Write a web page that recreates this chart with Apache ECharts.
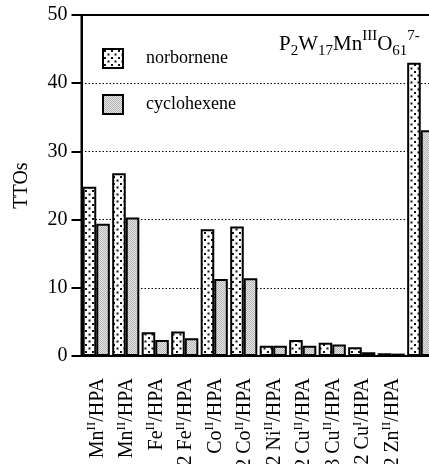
<!DOCTYPE html>
<html>
<head>
<meta charset="utf-8">
<script src="https://cdn.jsdelivr.net/npm/echarts@6/dist/echarts.min.js"></script>
<style>
  html, body { margin: 0; padding: 0; background: #fff; }
  #main { width: 429px; height: 464px; }
</style>
</head>
<body>
<div id="main"></div>
<script>
// catalysts (^ marks the superscript oxidation state)
var categories = ['Mn^II/HPA', '2 Mn^II/HPA', 'Fe^II/HPA', '2 Fe^II/HPA', 'Co^II/HPA', '2 Co^II/HPA',
  '2 Ni^II/HPA', '2 Cu^II/HPA', '3 Cu^II/HPA', '2 Cu^I/HPA', '2 Zn^II/HPA', ''];
var norbornene = [24.8, 26.8, 3.5, 3.6, 18.6, 19.0, 1.5, 2.35, 1.95, 1.3, 0.4, 43.0];
var cyclohexene = [19.4, 20.3, 2.35, 2.6, 11.3, 11.4, 1.5, 1.5, 1.7, 0.55, 0.35, 33.1];
var yTicks = [0, 10, 20, 30, 40, 50];

var FONT = '"Liberation Serif", serif';

// fill patterns
function dotPattern() {
  var c = document.createElement('canvas');
  c.width = 7; c.height = 7;
  var ctx = c.getContext('2d');
  ctx.fillStyle = '#fff';
  ctx.fillRect(0, 0, 7, 7);
  ctx.fillStyle = '#111';
  ctx.fillRect(1, 1, 2, 2);
  ctx.fillRect(4.5, 4.5, 2, 2);
  return c;
}
function grayPattern() {
  var c = document.createElement('canvas');
  c.width = 2; c.height = 2;
  var ctx = c.getContext('2d');
  ctx.fillStyle = '#e6e6e6';
  ctx.fillRect(0, 0, 2, 2);
  ctx.fillStyle = '#b4b4b4';
  ctx.fillRect(0, 0, 1, 1);
  ctx.fillRect(1, 1, 1, 1);
  return c;
}

function fmtLabel(s) {
  if (!s) return '';
  var m = s.match(/^(.*?)\^([IV]+)(.*)$/);
  if (!m) return '{n|' + s + '}';
  return '{n|' + m[1] + '}{sup|' + m[2] + '}{n|' + m[3] + '}';
}

var myChart = echarts.init(document.getElementById('main'));
var option;

var txt = { fontFamily: FONT, color: '#000', fontWeight: 'normal' };
var legendText = Object.assign({ fontSize: 18, padding: [0, 0, 0, 18] }, txt);

option = {
  animation: false,
  backgroundColor: '#fff',
  textStyle: { fontFamily: FONT, color: '#000' },
  title: {
    left: 279,
    top: 29,
    padding: 0,
    text: '{n|P}{sub|2}{n|W}{sub|17}{n|Mn}{sup|III}{n|O}{sub|61}{sup2|7-}',
    textStyle: {
      fontWeight: 'normal',
      rich: {
        n: Object.assign({ fontSize: 21, lineHeight: 30, verticalAlign: 'middle' }, txt),
        sub: Object.assign({ fontSize: 15, lineHeight: 12, verticalAlign: 'bottom' }, txt),
        sup: Object.assign({ fontSize: 15, lineHeight: 15, verticalAlign: 'top' }, txt),
        sup2: Object.assign({ fontSize: 15, lineHeight: 22, verticalAlign: 'top' }, txt)
      }
    }
  },
  legend: {
    orient: 'vertical',
    left: 102,
    top: 48,
    padding: 0,
    itemWidth: 20,
    itemHeight: 19,
    itemGap: 25,
    icon: 'rect',
    itemStyle: { borderColor: '#000', borderWidth: 2 },
    textStyle: legendText,
    data: [
      { name: 'norbornene', textStyle: legendText },
      { name: 'cyclohexene', textStyle: legendText }
    ]
  },
  grid: {
    left: 81.5,
    top: 15,
    width: 354,
    bottom: 108,
    outerBoundsMode: 'none',
    containLabel: false,
    show: true,
    borderColor: '#000',
    borderWidth: 2,
    backgroundColor: 'transparent'
  },
  xAxis: {
    type: 'category',
    data: categories,
    axisLine: { lineStyle: { color: '#000', width: 2 } },
    axisTick: { alignWithLabel: true, length: 8, lineStyle: { color: '#000', width: 2 } },
    axisLabel: {
      interval: 0,
      rotate: 90,
      margin: 22,
      formatter: fmtLabel,
      rich: {
        n: Object.assign({ fontSize: 20, lineHeight: 22, verticalAlign: 'bottom' }, txt),
        sup: Object.assign({ fontSize: 13, lineHeight: 13, verticalAlign: 'top' }, txt)
      }
    }
  },
  yAxis: {
    type: 'value',
    min: yTicks[0],
    max: yTicks[yTicks.length - 1],
    interval: 10,
    name: 'TTOs',
    nameLocation: 'middle',
    nameRotate: 90,
    nameGap: 50,
    nameTextStyle: { fontFamily: FONT, fontSize: 20, color: '#000' },
    axisLine: { show: true, lineStyle: { color: '#000', width: 2 } },
    axisTick: { show: true, length: 10, lineStyle: { color: '#000', width: 2 } },
    axisLabel: { fontFamily: FONT, fontSize: 20, color: '#000', margin: 14 },
    splitLine: { show: true, lineStyle: { color: '#000', width: 1, type: [1.5, 2] } }
  },
  series: [
    {
      name: 'norbornene',
      type: 'bar',
      data: norbornene,
      barGap: '0%',
      barCategoryGap: '8%',
      itemStyle: { color: { image: dotPattern(), repeat: 'repeat' }, borderColor: '#000', borderWidth: 2 }
    },
    {
      name: 'cyclohexene',
      type: 'bar',
      data: cyclohexene,
      barGap: '0%',
      barCategoryGap: '8%',
      itemStyle: { color: { image: grayPattern(), repeat: 'repeat' }, borderColor: '#000', borderWidth: 2 }
    }
  ]
};

option && myChart.setOption(option);
window.onresize = myChart.resize;
</script>
</body>
</html>
